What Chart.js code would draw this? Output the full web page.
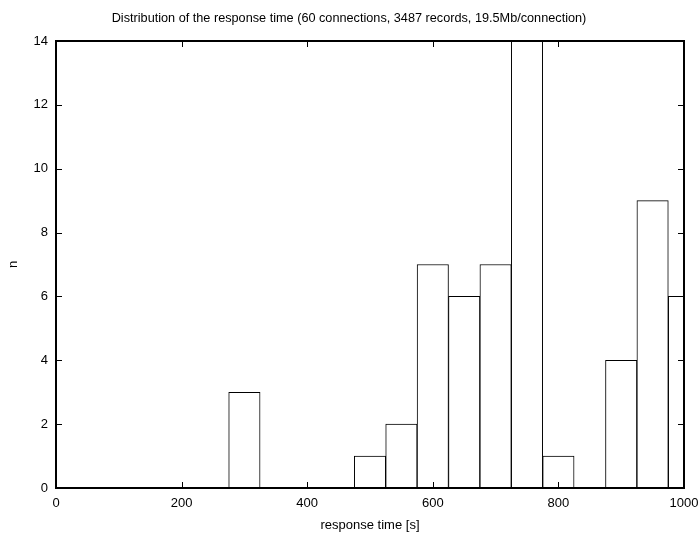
<!DOCTYPE html>
<html>
<head>
<meta charset="utf-8">
<script src="https://cdn.jsdelivr.net/npm/chart.js@4"></script>
<style>
  html, body { margin: 0; padding: 0; background: #fff; }
  #c { display: block; }
</style>
</head>
<body>
<canvas id="c" width="698" height="537"></canvas>
<script>
// histogram bins (centre of bin, seconds) and counts
const binCentres = [300, 500, 550, 600, 650, 700, 750, 800, 900, 950, 1000];
const counts     = [3,   1,   2,   7,   6,   7,   14,  1,   4,   9,   6];
const xTicks = [0, 200, 400, 600, 800, 1000];
const yTicks = [0, 2, 4, 6, 8, 10, 12, 14];
const titulo = 'Distribution of the response time (60 connections, 3487 records, 19.5Mb/connection)';

const fuente = "'Liberation Sans', Arial, sans-serif";

// gnuplot style: frame on all sides + ticks pointing inwards
const marco = {
  id: 'marco',
  afterDatasetsDraw(chart) {
    const ctx = chart.ctx;
    const a = chart.chartArea;
    const sx = chart.scales.x, sy = chart.scales.y;
    const len = 6;
    ctx.save();
    ctx.strokeStyle = '#000';
    ctx.lineWidth = 1;
    ctx.beginPath();
    xTicks.forEach(v => {
      const px = Math.round(sx.getPixelForValue(v)) + 0.5;
      ctx.moveTo(px, a.bottom); ctx.lineTo(px, a.bottom - len);
      ctx.moveTo(px, a.top); ctx.lineTo(px, a.top + len);
    });
    yTicks.forEach(v => {
      const py = Math.round(sy.getPixelForValue(v)) + 0.5;
      ctx.moveTo(a.left, py); ctx.lineTo(a.left + len, py);
      ctx.moveTo(a.right, py); ctx.lineTo(a.right - len, py);
    });
    ctx.stroke();
    ctx.lineWidth = 2;
    ctx.strokeRect(a.left, a.top, a.right - a.left, a.bottom - a.top);
    // title
    ctx.fillStyle = '#000';
    ctx.font = '12.7px ' + fuente;
    ctx.textAlign = 'center';
    ctx.textBaseline = 'middle';
    ctx.fillText(titulo, chart.width / 2, 18);
    ctx.restore();
  }
};

new Chart(document.getElementById('c'), {
  type: 'bar',
  data: {
    datasets: [{
      label: 'n',
      data: binCentres.map((x, i) => ({ x: x, y: counts[i] })),
      backgroundColor: '#ffffff',
      borderColor: '#000000',
      borderWidth: 1,
      barPercentage: 1,
      categoryPercentage: 1
    }]
  },
  options: {
    responsive: false,
    animation: false,
    layout: { padding: { top: 41, right: 14, left: 6, bottom: 0 } },
    plugins: {
      legend: { display: false },
      title: { display: false },
      tooltip: { enabled: false }
    },
    scales: {
      x: {
        type: 'linear',
        min: 0, max: 1000,
        offset: false,
        afterBuildTicks: s => { s.ticks = xTicks.map(v => ({ value: v })); },
        afterFit: s => { s.height = 49; s.paddingLeft = 0; s.paddingRight = 0; },
        grid: { display: false, drawTicks: false, offset: false },
        border: { display: false },
        ticks: { color: '#000', padding: 8, maxRotation: 0, callback: v => String(v), font: { size: 13, family: fuente } },
        title: { display: true, text: 'response time [s]', color: '#000', padding: { top: 1 }, font: { size: 13, family: fuente } }
      },
      y: {
        min: 0, max: 14,
        afterBuildTicks: s => { s.ticks = yTicks.map(v => ({ value: v })); },
        afterFit: s => { s.width = 50; s.paddingTop = 0; s.paddingBottom = 0; },
        grid: { display: false, drawTicks: false },
        border: { display: false },
        ticks: { color: '#000', padding: 8, font: { size: 13, family: fuente } },
        title: { display: true, text: 'n', color: '#000', padding: 0, font: { size: 13, family: fuente } }
      }
    }
  },
  plugins: [marco]
});
</script>
</body>
</html>
